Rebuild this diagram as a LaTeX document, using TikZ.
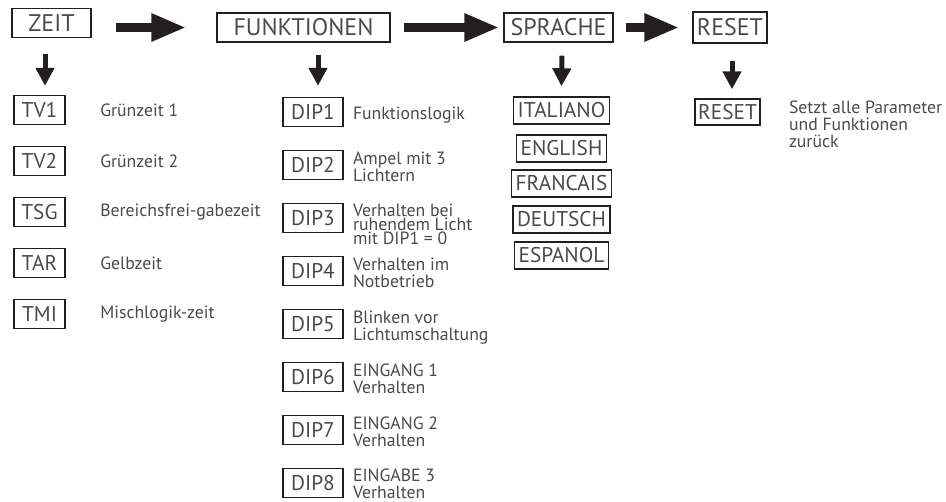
\documentclass[tikz,border=0pt]{standalone}
\usepackage{fontspec}
\setmainfont{PT Sans}
\usetikzlibrary{arrows.meta}
\usetikzlibrary{calc}
\usepackage{xcolor}
\definecolor{boxline}{HTML}{231F20}
\definecolor{txtgray}{HTML}{4A4A4C}

\begin{document}
\begin{tikzpicture}[x=0.75pt, y=-0.75pt,
    topbox/.style={draw=boxline, line width=1.1pt, text=txtgray,
      font=\fontsize{18}{20}\selectfont, minimum height=21.75pt, inner sep=0pt},
    subbox/.style={draw=boxline, line width=1.1pt, text=txtgray,
      font=\fontsize{16}{18}\selectfont, minimum height=21.75pt, inner sep=0pt},
    langbox/.style={subbox, minimum height=20.25pt, inner xsep=3pt},
    desc/.style={text=txtgray, font=\fontsize{13.3}{13}\selectfont,
      align=left, inner sep=0pt},
    bigarrow/.style={boxline, line width=6.75pt,
      -{Triangle[length=26.25pt, width=19.5pt]}},
    downarrow/.style={boxline, line width=3.75pt,
      -{Triangle[length=13.5pt, width=13.5pt]}}]

      \useasboundingbox (0,0) rectangle (946,502);

      % Main menu
      \node[topbox, minimum width=59.25pt] (zeit) at (51.5,23) {ZEIT};
      \node[topbox, minimum width=129.75pt] (funk) at (303.5,27.5) {FUNKTIONEN};
      \node[topbox, minimum width=81.75pt] (sprache) at (558.5,27.5) {SPRACHE};
      \node[topbox, minimum width=55.5pt, minimum height=23.25pt] (reset) at (730,27.5) {RESET};

      \draw[bigarrow] ($(zeit.east |- funk.west)+(24,0)$) -- ($(funk.west)+(-30,0)$);
      \draw[bigarrow] ($(funk.east)+(13,0)$) -- ($(sprache.west)+(-4,0)$);
      \draw[bigarrow] ($(sprache.east)+(12,0)$) -- ($(reset.west)+(-13,0)$);

      % Zeit
      \foreach \n/\lab/\txt [count=\i from 0] in {tv1/TV1/Grünzeit 1, tv2/TV2/Grünzeit 2,
        tsg/TSG/Bereichsfrei-gabezeit, tar/TAR/Gelbzeit, tmi/TMI/Mischlogik-zeit}
      {
        \node[subbox, minimum width=38.25pt] (\n) at (39.5,110+51*\i) {\lab};
        \node[desc, anchor=west] (\n-txt) at (100,110+51*\i) {\txt};
      }
      \draw[downarrow] ($(zeit.south)+(-6.5,16)$) -- ($(tv1.north)+(5.5,-9)$);

      % Funktionen
      \foreach \i in {1,...,8}
      {
        \node[subbox, minimum width=45pt] (dip\i) at (313,112+53*\i-53) {DIP\i};
      }
      \draw[downarrow] ($(funk.south)+(14.5,12)$) -- ($(dip1.north)+(5,-11)$);

      \node[desc, anchor=west] (dip1-txt) at ($(dip1.east)+(9,3)$) {Funktionslogik};
      \node[desc, anchor=north west] (dip2-txt) at ($(dip2.north east)+(9,2)$) {Ampel mit 3\\Lichtern};
      \node[desc, anchor=north west, font=\fontsize{13.3}{10.5}\selectfont] (dip3-txt)
        at ($(dip3.north east)+(9,1)$) {Verhalten bei\\ruhendem Licht\\mit DIP1 = 0};
      \node[desc, anchor=north west] (dip4-txt) at ($(dip4.north east)+(9,2)$) {Verhalten im\\Notbetrieb};
      \node[desc, anchor=north west] (dip5-txt) at ($(dip5.north east)+(9,2)$) {Blinken vor\\Lichtumschaltung};
      \node[desc, anchor=north west] (dip6-txt) at ($(dip6.north east)+(9,2)$) {EINGANG 1\\Verhalten};
      \node[desc, anchor=north west] (dip7-txt) at ($(dip7.north east)+(9,2)$) {EINGANG 2\\Verhalten};
      \node[desc, anchor=north west] (dip8-txt) at ($(dip8.north east)+(9,1)$) {EINGABE 3\\Verhalten};

      % Sprache
      \foreach \n/\lab/\y in {italiano/ITALIANO/110.5, english/ENGLISH/148.5,
        francais/FRANCAIS/183.5, deutsch/DEUTSCH/219.5, espanol/ESPANOL/255.5}
      {
        \node[langbox] (\n) at (561.5,\y) {\lab};
      }
      \draw[downarrow] ($(sprache.south)+(3.5,13)$) -- ($(italiano.north)+(0,-10)$);

      % Reset
      \node[subbox, minimum width=48.75pt, minimum height=19.5pt] (resetall) at (727.5,112) {RESET};
      \draw[downarrow] ($(reset.south)+(2,17)$) -- ($(resetall.north)+(4.5,-9)$);
      \node[desc, anchor=north west] (resetall-txt) at ($(resetall.north east)+(28,2)$)
        {Setzt alle Parameter\\und Funktionen\\zurück};

  \end{tikzpicture}
\end{document}
